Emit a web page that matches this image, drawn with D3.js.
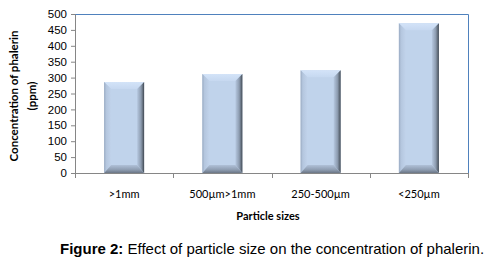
<!DOCTYPE html>
<html>
<head>
<meta charset="utf-8">
<script src="https://cdn.jsdelivr.net/npm/d3@7.9.0/dist/d3.min.js"></script>
<style>
  body { margin: 0; background: #fff; }
  svg { display: block; }
</style>
</head>
<body>
<div id="chart"></div>
<script>
// data
const categories = [">1mm", "500\u00b5m>1mm", "250-500\u00b5m", "<250\u00b5m"];
const values = [286, 311, 323, 471];
const yTicks = [0, 50, 100, 150, 200, 250, 300, 350, 400, 450, 500];

const W = 492, H = 264;
const margin = {top: 14, right: 24, bottom: 91, left: 75};
const width = W - margin.left - margin.right;
const height = H - margin.top - margin.bottom;

const svg = d3.select("#chart").append("svg")
    .attr("width", W)
    .attr("height", H);

const defs = svg.append("defs");
function grad(id, x2, y2, stops) {
    const g = defs.append("linearGradient")
        .attr("id", id)
        .attr("x1", 0).attr("y1", 0)
        .attr("x2", x2).attr("y2", y2);
    stops.forEach(s => g.append("stop").attr("offset", s[0]).attr("stop-color", s[1]));
}
grad("bevLeft", 1, 0, [[0, "#9aabc2"], [0.3, "#b4c6de"], [1, "#c1d3eb"]]);
grad("bevRight", 1, 0, [[0, "#b6c8e0"], [0.55, "#8d9cb0"], [0.85, "#5d6875"], [1, "#3b424b"]]);
grad("bevTop", 0, 1, [[0, "#d3e3f8"], [1, "#c6d8f0"]]);
grad("bevBottom", 0, 1, [[0, "#b0c1d8"], [0.6, "#8e9db1"], [1, "#6b7686"]]);

const g = svg.append("g")
    .attr("transform", `translate(${margin.left},${margin.top})`);

// scales
const x = d3.scaleBand()
    .domain(categories)
    .range([0, width])
    .paddingInner(0.593)
    .paddingOuter(0.2965);

const y = d3.scaleLinear()
    .domain([0, 500])
    .range([height, 0]);

// plot area border (top and right)
g.append("path")
    .attr("d", `M0,0.5H${width + 0.5}V${height}`)
    .attr("fill", "none")
    .attr("stroke", "#4f81bd")
    .attr("stroke-width", 1);

// bars with bevel
const bw = x.bandwidth();
const bars = g.selectAll(".bar")
    .data(values.map((v, i) => ({cat: categories[i], value: v})))
    .join("g")
    .attr("class", "bar")
    .attr("transform", d => `translate(${x(d.cat)},${y(d.value)})`);

bars.each(function(d) {
    const sel = d3.select(this);
    const h = height - y(d.value);
    const b = 7, bb = 8;
    sel.append("rect")
        .attr("width", bw).attr("height", h)
        .attr("fill", "#c0d3eb");
    sel.append("polygon")
        .attr("points", `0,0 ${bw},0 ${bw - b},${b} ${b},${b}`)
        .attr("fill", "url(#bevTop)");
    sel.append("polygon")
        .attr("points", `0,0 ${b},${b} ${b},${h - bb} 0,${h}`)
        .attr("fill", "url(#bevLeft)");
    sel.append("polygon")
        .attr("points", `${bw},0 ${bw},${h} ${bw - b},${h - bb} ${bw - b},${b}`)
        .attr("fill", "url(#bevRight)");
    sel.append("polygon")
        .attr("points", `0,${h} ${b},${h - bb} ${bw - b},${h - bb} ${bw},${h}`)
        .attr("fill", "url(#bevBottom)");
});

// y axis
const yAxis = g.append("g")
    .call(d3.axisLeft(y).tickValues(yTicks).tickSize(4).tickSizeOuter(0));
yAxis.select(".domain").attr("stroke", "#868686");
yAxis.selectAll(".tick line").attr("stroke", "#868686");
yAxis.selectAll(".tick text")
    .attr("x", -8)
    .attr("font-family", "Liberation Sans, Arial, sans-serif")
    .attr("font-size", "11.5px")
    .attr("fill", "#000");

// x axis
const xAxis = g.append("g")
    .attr("transform", `translate(0,${height})`)
    .call(d3.axisBottom(x).tickSize(0).tickSizeOuter(0));
xAxis.select(".domain").attr("stroke", "#868686");
xAxis.selectAll(".tick text")
    .attr("y", 17)
    .attr("font-family", "Lato, Carlito, sans-serif")
    .attr("font-size", "11px")
    .attr("fill", "#000");
// tick marks at category boundaries
xAxis.selectAll(".bound")
    .data(d3.range(categories.length + 1))
    .join("line")
    .attr("class", "bound")
    .attr("x1", i => Math.round(i * x.step()) + 0.5)
    .attr("x2", i => Math.round(i * x.step()) + 0.5)
    .attr("y1", 0)
    .attr("y2", 5)
    .attr("stroke", "#868686");

// axis titles
g.append("text")
    .attr("x", 193)
    .attr("y", height + 47)
    .attr("text-anchor", "middle")
    .attr("font-family", "Lato, Carlito, sans-serif")
    .attr("font-weight", "bold")
    .attr("font-size", "11px")
    .text("Particle sizes");

const yTitle = svg.append("text")
    .attr("transform", "translate(14,96) rotate(-90)")
    .attr("text-anchor", "middle")
    .attr("font-family", "Lato, Carlito, sans-serif")
    .attr("font-weight", "bold")
    .attr("font-size", "11.5px");
yTitle.append("tspan").attr("x", 0).attr("dy", "0.35em").text("Concentration of phalerin");
yTitle.append("tspan").attr("x", 0).attr("dy", "1.55em").text("(ppm)");

// caption
const cap = svg.append("text")
    .attr("x", 60)
    .attr("y", 254)
    .attr("font-family", "Liberation Sans, Arial, sans-serif")
    .attr("font-size", "15px");
cap.append("tspan").attr("font-weight", "bold").text("Figure 2:");
cap.append("tspan").text(" Effect of particle size on the concentration of phalerin.");
</script>
</body>
</html>
